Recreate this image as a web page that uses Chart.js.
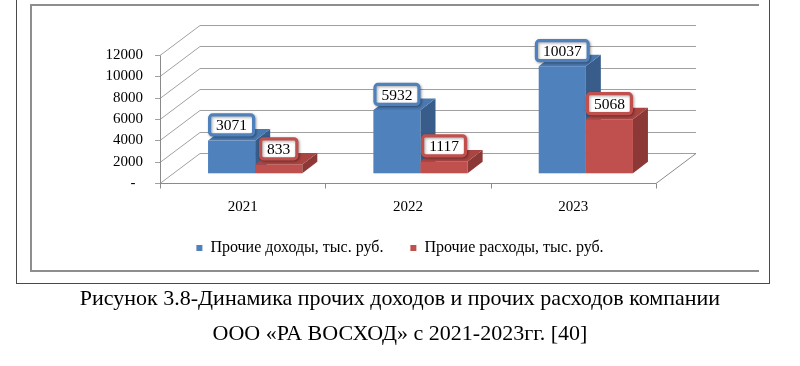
<!DOCTYPE html>
<html>
<head>
<meta charset="utf-8">
<script src="https://cdn.jsdelivr.net/npm/chart.js@4/dist/chart.umd.min.js"></script>
<style>
  html, body { margin:0; padding:0; background:#fff; width:800px; height:366px; overflow:hidden;
    font-family:'Liberation Serif','Times New Roman',serif; }
  #outer { position:absolute; left:16px; top:0; width:752px; height:283px;
    border-left:1px solid #4a4a4a; border-right:1px solid #4a4a4a; border-bottom:1px solid #4a4a4a; }
  #inner { position:absolute; left:30px; top:4px; width:727px; height:264px;
    border-left:2px solid #8e8e8e; border-top:2px solid #8e8e8e; border-bottom:2px solid #8e8e8e; }
  #wrap { position:absolute; left:0; top:0; width:800px; height:366px; }
  .cap { position:absolute; left:0; width:800px; text-align:center; font-size:22px; color:#000;
    height:26px; line-height:26px; white-space:nowrap; }
</style>
</head>
<body>
<div id="outer"></div>
<div id="inner"></div>
<div id="wrap"><canvas id="c" width="800" height="366"></canvas></div>
<div class="cap" style="top:285px">Рисунок 3.8-Динамика прочих доходов и прочих расходов компании</div>
<div class="cap" style="top:320px">ООО «РА ВОСХОД» с 2021-2023гг. [40]</div>
<script>
// ---- data ----
const categories = ['2021', '2022', '2023'];
const incomeValues = [3071, 5932, 10037];
const expenseValues = [833, 1117, 5068];
const seriesLabels = ['Прочие доходы, тыс. руб.', 'Прочие расходы, тыс. руб.'];
const yMin = 0;
const yMax = 12000;
const yStep = 2000;

// ---- styles ----
const frontColors = ['#4F81BD', '#C0504D'];
const sideColors = ['#385D8A', '#8C3836'];
const topColors = ['#4A79B2', '#AA4542'];
const FONT = "'Liberation Serif', 'Times New Roman', serif";

function drawLabel(ctx, text, cx, bottom, color) {
  ctx.save();
  ctx.font = '15.5px ' + FONT;
  const tw = ctx.measureText(text).width;
  const bw = 3.2;
  const w = tw + 13, h = 20;
  const lx = cx - w / 2, ty = bottom - bw / 2 - h;
  ctx.shadowColor = 'rgba(0,0,0,0.35)';
  ctx.shadowBlur = 3; ctx.shadowOffsetX = 1; ctx.shadowOffsetY = 1;
  ctx.beginPath(); ctx.roundRect(lx, ty, w, h, 3);
  ctx.fillStyle = '#fff'; ctx.fill();
  ctx.lineWidth = bw; ctx.strokeStyle = color; ctx.stroke();
  ctx.shadowColor = 'transparent';
  ctx.fillStyle = '#000'; ctx.textAlign = 'center'; ctx.textBaseline = 'middle';
  ctx.fillText(text, cx, ty + h / 2 + 1);
  ctx.restore();
}

const threeD = {
  id: 'threeD',
  beforeDatasetsDraw(chart) {
    const { ctx, chartArea: a, scales: { x, y } } = chart;
    const DX = 40, DY = -30;          // wall depth
    const OX = 12.5, OY = -9.7;        // bar plane offset
    const BX = 15, BY = -11.5;         // bar depth
    ctx.save();
    ctx.lineWidth = 1;
    ctx.strokeStyle = '#a0a0a0';
    y.ticks.forEach(t => {
      const py = Math.round(y.getPixelForValue(t.value)) + 0.5;
      ctx.beginPath();
      ctx.moveTo(a.left - 5, py);
      ctx.lineTo(a.left, py);
      ctx.lineTo(a.left + DX, py + DY);
      ctx.lineTo(a.right + DX, py + DY);
      ctx.stroke();
    });
    const yTop = Math.round(y.getPixelForValue(yMax)) + 0.5;
    const y0 = Math.round(y.getPixelForValue(0)) + 0.5;
    ctx.strokeStyle = '#8a8a8a';
    ctx.beginPath();
    ctx.moveTo(a.left + 0.5, yTop); ctx.lineTo(a.left + 0.5, y0);
    ctx.stroke();
    ctx.beginPath();
    ctx.moveTo(a.left, y0); ctx.lineTo(a.right, y0); ctx.lineTo(a.right + DX, y0 + DY);
    ctx.stroke();
    const n = categories.length;
    for (let k = 0; k <= n; k++) {
      const px = Math.round(a.left + k * (a.right - a.left) / n) + 0.5;
      ctx.beginPath(); ctx.moveTo(px, y0); ctx.lineTo(px, y0 + 5); ctx.stroke();
    }
    const metas = [chart.getDatasetMeta(0), chart.getDatasetMeta(1)];
    const labelsToDraw = [];
    for (let i = 0; i < n; i++) {
      metas.forEach((meta, d) => {
        const el = meta.data[i];
        const p = el.getProps(['x', 'y', 'base', 'width'], true);
        const l = p.x - p.width / 2 + OX, r = p.x + p.width / 2 + OX;
        const t = p.y + OY, b = p.base + OY;
        ctx.fillStyle = frontColors[d];
        ctx.fillRect(l, t, r - l, b - t);
        ctx.fillStyle = sideColors[d];
        ctx.beginPath();
        ctx.moveTo(r, t); ctx.lineTo(r + BX, t + BY); ctx.lineTo(r + BX, b + BY); ctx.lineTo(r, b);
        ctx.closePath(); ctx.fill();
        ctx.fillStyle = topColors[d];
        ctx.beginPath();
        ctx.moveTo(l, t); ctx.lineTo(l + BX, t + BY); ctx.lineTo(r + BX, t + BY); ctx.lineTo(r, t);
        ctx.closePath(); ctx.fill();
        const val = chart.data.datasets[d].data[i];
        labelsToDraw.push([String(val), (l + r) / 2, t - 4, frontColors[d]]);
      });
    }
    labelsToDraw.forEach(L => drawLabel(ctx, L[0], L[1], L[2], L[3]));
    ctx.restore();
    return false;
  }
};

new Chart(document.getElementById('c'), {
  type: 'bar',
  data: {
    labels: categories,
    datasets: [
      { label: seriesLabels[0], data: incomeValues, backgroundColor: frontColors[0], borderWidth: 0 },
      { label: seriesLabels[1], data: expenseValues, backgroundColor: frontColors[1], borderWidth: 0 }
    ]
  },
  options: {
    responsive: false,
    animation: false,
    layout: { padding: { left: 0, right: 0, top: 55, bottom: 100 } },
    datasets: { bar: { categoryPercentage: 0.57, barPercentage: 1 } },
    scales: {
      x: {
        grid: { display: false, drawTicks: false },
        border: { display: false },
        ticks: { color: '#000', font: { family: FONT, size: 15 }, padding: 15, maxRotation: 0 },
        afterFit: s => { s.height = 30; }
      },
      y: {
        min: yMin, max: yMax,
        grid: { display: false, drawTicks: false },
        border: { display: false },
        ticks: { stepSize: yStep, color: '#000', font: { family: FONT, size: 15 }, padding: 17,
          callback: v => v === 0 ? '-  ' : String(v) },
        afterFit: s => { s.width = 160; }
      },
      yRight: {
        position: 'right',
        grid: { display: false, drawTicks: false },
        border: { display: false },
        ticks: { display: false },
        afterFit: s => { s.width = 144; }
      }
    },
    plugins: {
      legend: {
        position: 'bottom',
        labels: { boxWidth: 6, boxHeight: 6, padding: 27, color: '#000', font: { family: FONT, size: 16 } }
      },
      tooltip: { enabled: false }
    }
  },
  plugins: [threeD]
});
</script>
</body>
</html>
